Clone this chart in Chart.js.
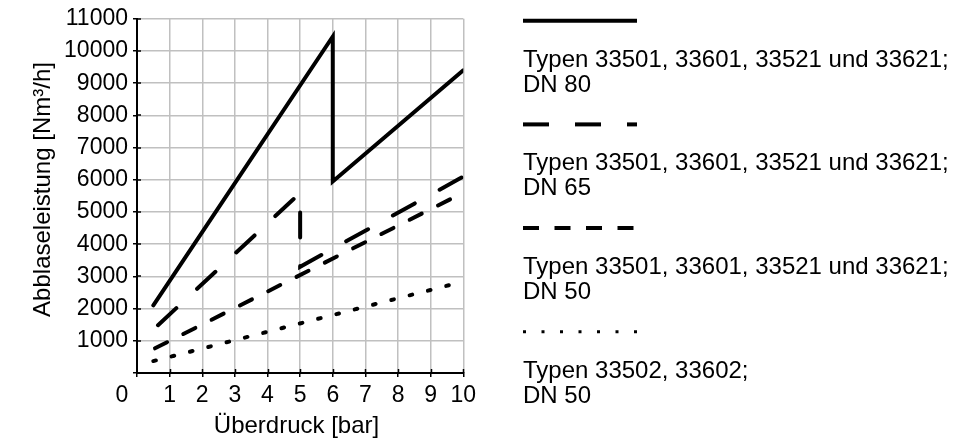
<!DOCTYPE html>
<html>
<head>
<meta charset="utf-8">
<script src="https://cdn.jsdelivr.net/npm/chart.js@4/dist/chart.umd.min.js"></script>
<style>
html,body{margin:0;padding:0;background:#fff;}
#c{display:block;}
</style>
</head>
<body>
<canvas id="c" width="973" height="441"></canvas>
<script>
// ---- data ----
const legendLines = [
  ['Typen 33501, 33601, 33521 und 33621;', 'DN 80'],
  ['Typen 33501, 33601, 33521 und 33621;', 'DN 65'],
  ['Typen 33501, 33601, 33521 und 33621;', 'DN 50'],
  ['Typen 33502, 33602;', 'DN 50']
];
const dn80X = [0.5, 6, 6, 10];
const dn80Y = [2100, 10450, 5950, 9400];
const dn65X = [0.5, 5, 5, 10];
const dn65Y = [1350, 5590, 3300, 6100];
const dn50X = [0.5, 10];
const dn50Y = [740, 5600];
const dn50bX = [0.5, 10];
const dn50bY = [370, 2840];
const xTitle = 'Überdruck [bar]';
const yTitle = 'Abblaseleistung [Nm³/h]';
const cornerLabel = '0';

// ---- build ----
function pts(xs, ys) { return xs.map((x, i) => ({x: x, y: ys[i]})); }

const FONT = "'Liberation Sans', Arial, sans-serif";
const FS = 23;      // tick labels
const FS_BIG = 24;  // titles, legend
Chart.defaults.font.family = FONT;
Chart.defaults.font.size = FS;
Chart.defaults.color = '#000';

const lineStyles = [
  {dash: [], offset: 0, legendDash: [], legendWidth: 4},
  {dash: [25, 28.4], offset: 47, legendDash: [26, 26], legendWidth: 4},
  {dash: [13.5, 18.2], offset: 29.8, legendDash: [16, 15.5], legendWidth: 4},
  {dash: [2.7, 16.2], offset: 0, legendDash: [3, 15.5], legendWidth: 3}
];

const seriesData = [pts(dn80X, dn80Y), pts(dn65X, dn65Y), pts(dn50X, dn50Y), pts(dn50bX, dn50bY)];

const datasets = seriesData.map((d, i) => ({
  label: legendLines[i].join(' '),
  data: d,
  borderColor: '#000',
  borderWidth: 4,
  borderDash: lineStyles[i].dash,
  borderDashOffset: lineStyles[i].offset,
  borderCapStyle: 'round',
  borderJoinStyle: 'miter',
  pointRadius: 0,
  pointHoverRadius: 0,
  fill: false,
  tension: 0
}));

const extras = {
  id: 'extras',
  afterDraw(chart) {
    const ctx = chart.ctx;
    const xs = chart.scales.x, ys = chart.scales.y;
    ctx.save();
    // inner halves of tick marks
    ctx.strokeStyle = '#000';
    ctx.lineWidth = 1.5;
    ctx.beginPath();
    for (let v = 1; v <= 10; v++) {
      const px = Math.round(xs.getPixelForValue(v)) + 0.5;
      ctx.moveTo(px, xs.top); ctx.lineTo(px, xs.top - 4);
    }
    for (let v = 1000; v <= 11000; v += 1000) {
      const py = Math.round(ys.getPixelForValue(v));
      ctx.moveTo(ys.right, py); ctx.lineTo(ys.right + 4, py);
    }
    ctx.stroke();
    ctx.fillStyle = '#000';
    // corner "0" label
    ctx.font = FS + 'px ' + FONT;
    ctx.textAlign = 'center';
    ctx.textBaseline = 'middle';
    ctx.fillText(cornerLabel, xs.left - 15, xs.top + 4 + 5 + FS * 1.2 / 2);
    // axis titles
    ctx.font = FS_BIG + 'px ' + FONT;
    ctx.textBaseline = 'alphabetic';
    ctx.fillText(xTitle, 296.5, 433);
    ctx.save();
    ctx.translate(50, 189.5);
    ctx.rotate(-Math.PI / 2);
    ctx.fillText(yTitle, 0, 0);
    ctx.restore();
    // legend
    const lx0 = 523, lx1 = 637;
    chart.data.datasets.forEach((ds, i) => {
      const y0 = 20.7 + i * 103.7;
      const st = lineStyles[i];
      ctx.beginPath();
      ctx.setLineDash(st.legendDash);
      ctx.lineWidth = st.legendWidth;
      ctx.lineCap = 'butt';
      ctx.moveTo(lx0, y0); ctx.lineTo(lx1, y0);
      ctx.stroke();
      ctx.setLineDash([]);
      ctx.textAlign = 'left';
      ctx.textBaseline = 'alphabetic';
      legendLines[i].forEach((t, j) => {
        ctx.fillText(t, lx0, y0 + 46 + j * 25);
      });
    });
    ctx.restore();
  }
};

new Chart(document.getElementById('c'), {
  type: 'line',
  data: {datasets: datasets},
  options: {
    responsive: false,
    animation: false,
    events: [],
    layout: {padding: {left: 0, top: 18.3, right: 509.7, bottom: 0}},
    plugins: {legend: {display: false}, tooltip: {enabled: false}},
    scales: {
      x: {
        type: 'linear',
        min: 0, max: 10,
        ticks: {stepSize: 1, padding: 5, color: '#000',
          callback: v => (v === 0 ? '' : String(v)), maxRotation: 0, autoSkip: false},
        grid: {color: '#c0c0c0', lineWidth: 1.5, tickColor: '#000', tickLength: 4, tickWidth: 1.5},
        border: {color: '#000', width: 2},
        title: {display: false},
        afterFit: s => { s.height = 68; }
      },
      y: {
        min: 0, max: 11000,
        ticks: {stepSize: 1000, padding: 5, color: '#000',
          callback: v => (v === 0 ? '' : String(v)), autoSkip: false},
        grid: {color: '#c0c0c0', lineWidth: 1.5, tickColor: '#000', tickLength: 4, tickWidth: 1.5},
        border: {color: '#000', width: 2},
        title: {display: false},
        afterFit: s => { s.width = 137; }
      }
    }
  },
  plugins: [extras]
});
</script>
</body>
</html>
